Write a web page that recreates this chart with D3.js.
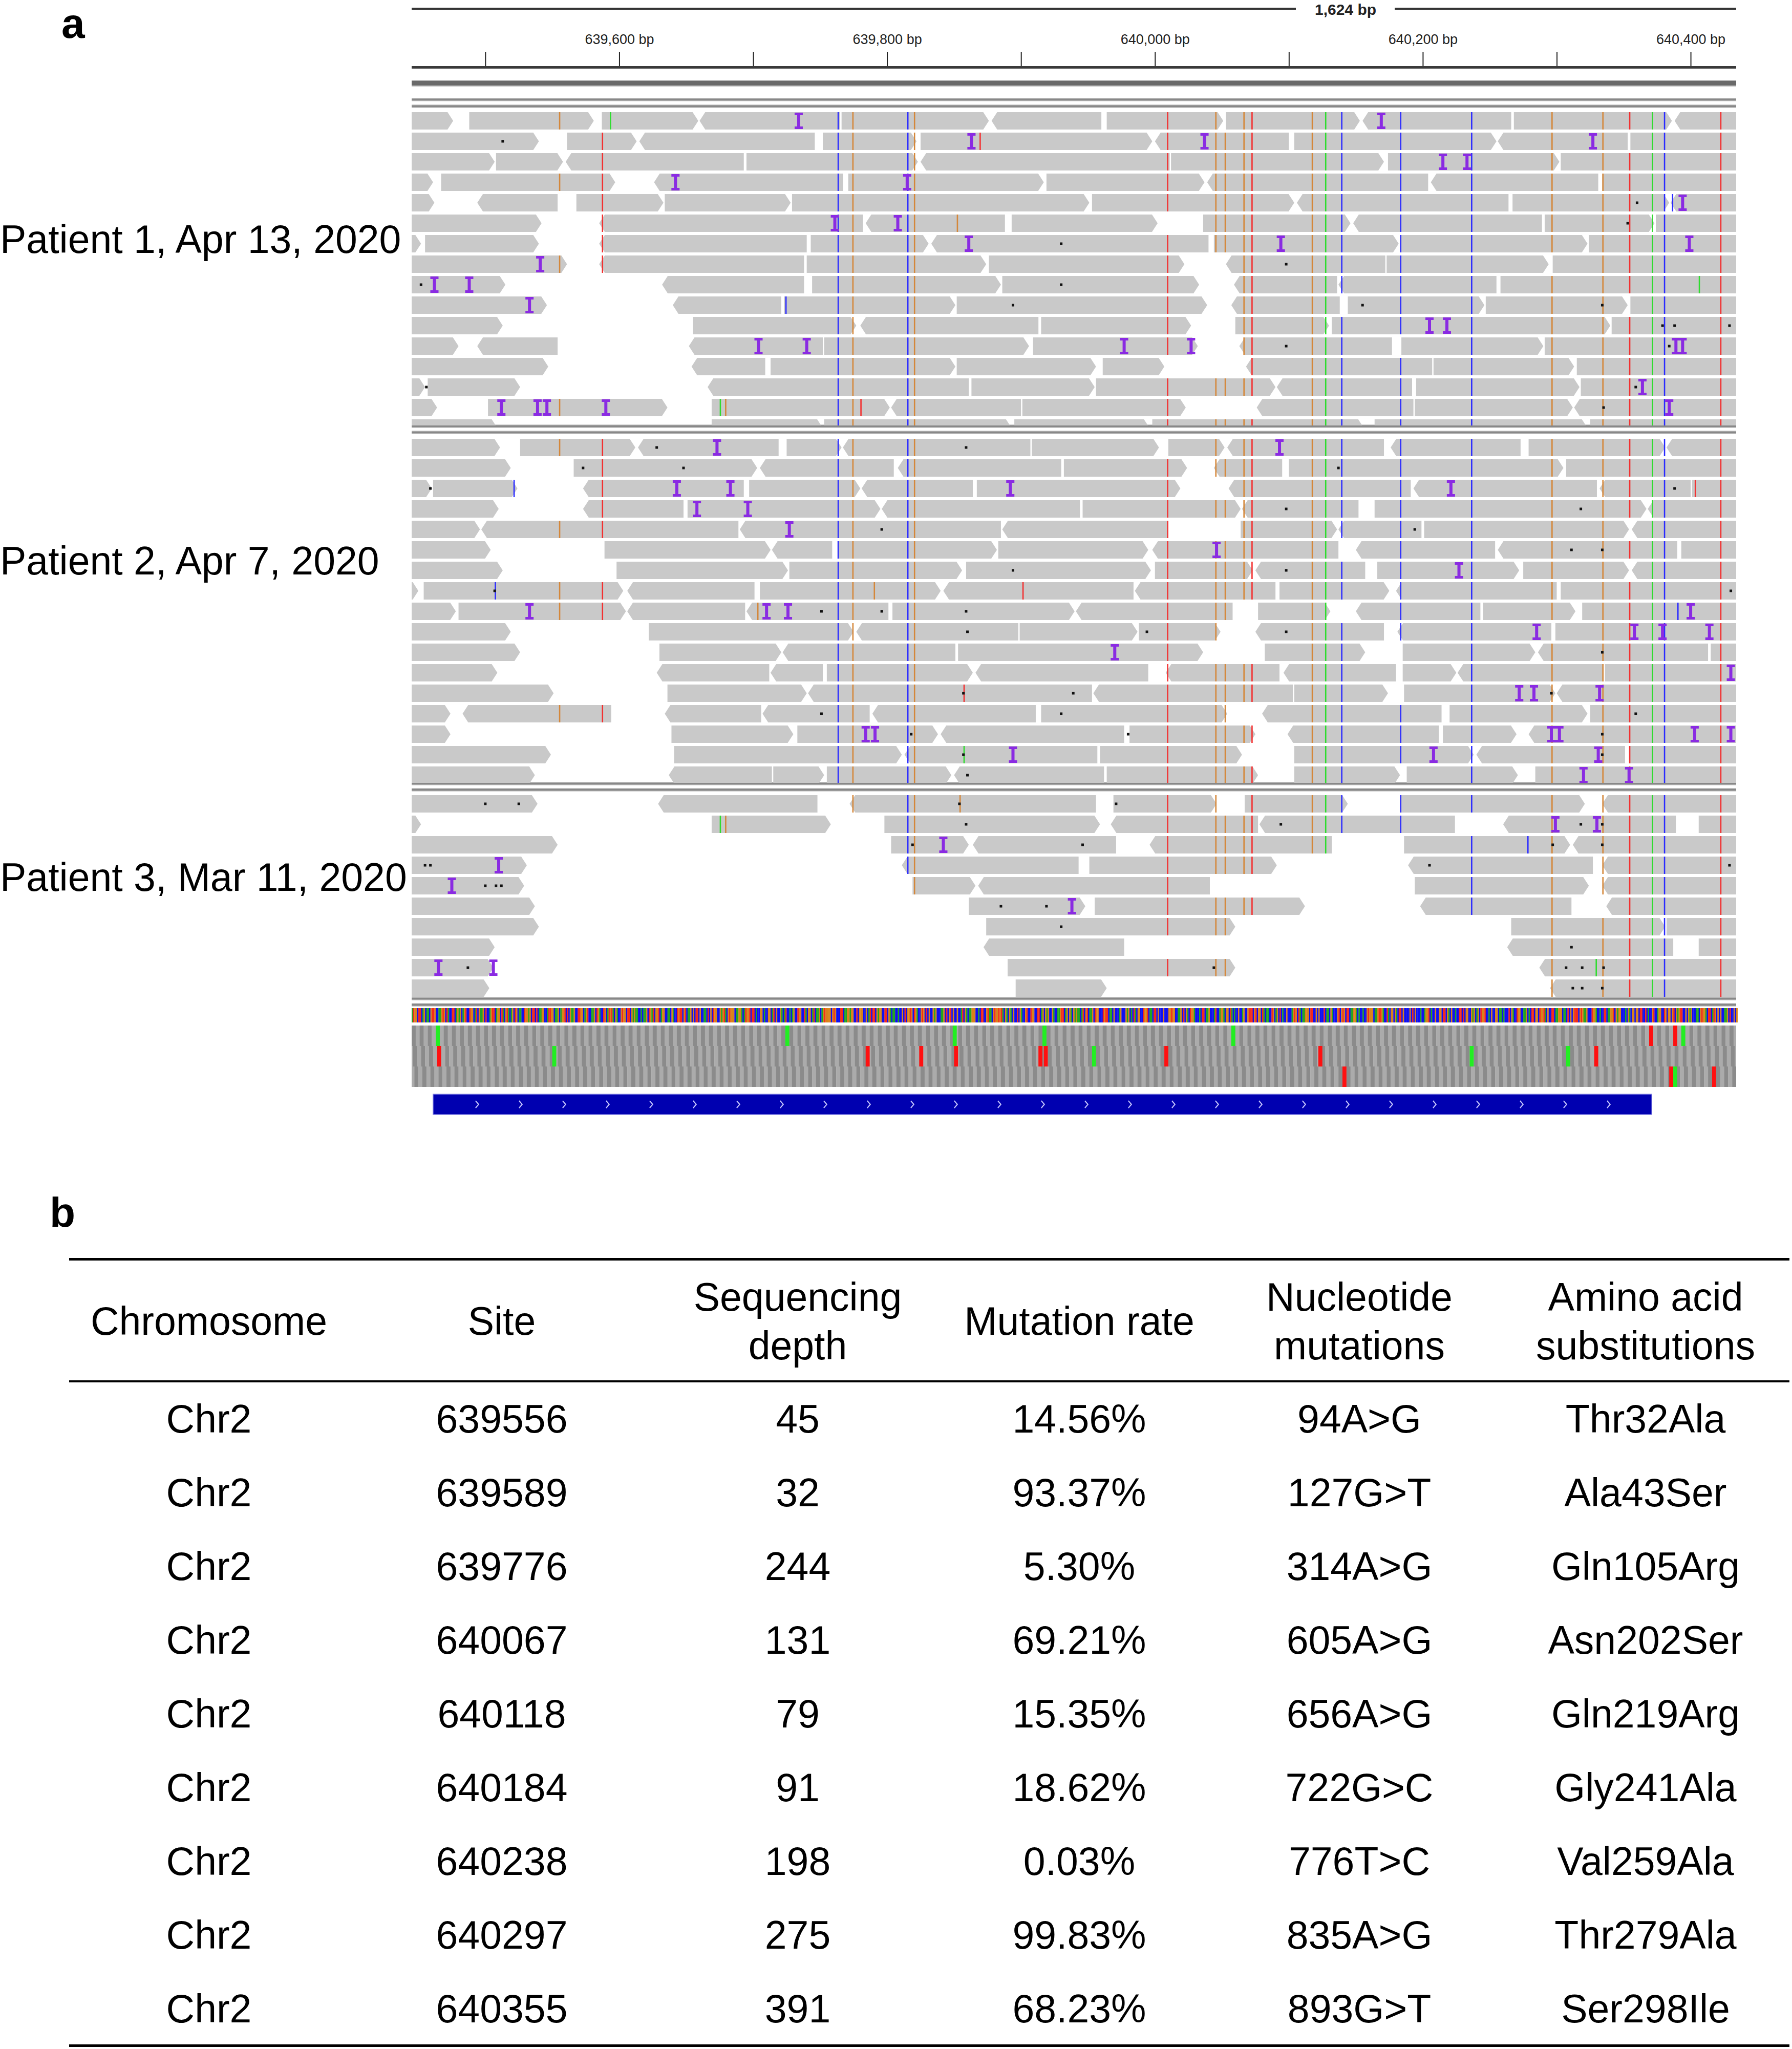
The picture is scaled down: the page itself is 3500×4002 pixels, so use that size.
<!DOCTYPE html>
<html>
<head>
<meta charset="utf-8">
<script src="https://cdn.jsdelivr.net/npm/d3@7"></script>
<style>
  body { margin: 0; background: #fff; }
  svg { display: block; }
  text { font-family: "Liberation Sans", Arial, sans-serif; }
</style>
</head>
<body>
<svg id="fig" width="3500" height="4002"></svg>
<script>
// ---- genome window ----
const viewStart = 639445, viewEnd = 640434;
const spanLabel = "1,624 bp";
const rulerTicks = [639500, 639600, 639700, 639800, 639900, 640000, 640100, 640200, 640300, 640400];

// mutation columns seen in the alignments: [position, base]
const mutCols = [
  [639555, "G"], [639587, "T"], [639763, "C"], [639774, "G"], [639815, "C"], [639820, "G"],
  [640009, "T"], [640045, "G"], [640052, "G"], [640066, "G"], [640072, "T"], [640117, "G"],
  [640127, "A"], [640139, "C"], [640183, "C"], [640236, "C"], [640296, "G"], [640334, "G"],
  [640354, "T"], [640371, "A"], [640380, "C"], [640422, "T"]
];

// ---- patient 1 : reads per row [start, end, strand] ----
const reads1 = [
  [[639440,639476,1],[639488,639581,1],[639587,639659,1],[639660,639765,-1],[639766,639876,1],[639878,639960,-1],[639964,640051,1],[640053,640153,1],[640155,640266,-1],[640268,640386,1],[640388,640440,-1]],
  [[639440,639540,1],[639561,639613,1],[639615,639746,-1],[639752,639822,1],[639825,639998,1],[640000,640100,-1],[640104,640255,1],[640256,640353,-1],[640355,640440,1]],
  [[639440,639507,1],[639508,639558,1],[639560,639693,-1],[639695,639823,1],[639825,640011,-1],[640012,640171,1],[640174,640302,1],[640303,640440,1]],
  [[639440,639461,1],[639467,639597,1],[639626,639767,-1],[639771,639917,1],[639919,640037,1],[640039,640204,-1],[640206,640331,-1],[640334,640440,1]],
  [[639440,639462,1],[639494,639554,-1],[639568,639633,1],[639634,639728,1],[639729,639951,1],[639953,640104,1],[640106,640264,-1],[640267,640384,1],[640385,640440,-1]],
  [[639440,639542,1],[639585,639782,-1],[639784,639888,-1],[639893,640002,1],[640036,640146,1],[640148,640289,-1],[640291,640373,1],[640374,640440,1]],
  [[639440,639452,1],[639455,639540,1],[639585,639740,-1],[639743,639831,1],[639833,640040,-1],[640044,640182,1],[640183,640323,1],[640324,640440,1]],
  [[639440,639561,1],[639585,639738,-1],[639740,639874,1],[639876,640022,1],[640053,640172,-1],[640173,640294,1],[640297,640440,1]],
  [[639440,639515,1],[639632,639738,-1],[639744,639885,1],[639886,640033,1],[640059,640136,-1],[640137,640255,-1],[640258,640440,1]],
  [[639440,639546,1],[639640,639721,-1],[639723,639851,1],[639852,640039,1],[640057,640138,-1],[640144,640246,1],[640247,640353,1],[640355,640440,1]],
  [[639440,639513,1],[639655,639777,1],[639780,639913,-1],[639915,640027,1],[640060,640130,1],[640132,640340,1],[640341,640440,1]],
  [[639440,639480,1],[639494,639554,-1],[639652,639752,-1],[639753,639906,1],[639909,640032,1],[640063,640177,-1],[640184,640290,1],[640291,640440,1]],
  [[639440,639547,1],[639654,639709,-1],[639713,639851,1],[639852,639956,1],[639961,640007,1],[640068,640207,-1],[640208,640313,1],[640315,640440,1]],
  [[639440,639455,1],[639457,639526,1],[639666,639861,-1],[639863,639955,1],[639956,640090,1],[640091,640192,-1],[640195,640317,1],[640318,640440,1]],
  [[639440,639464,1],[639502,639636,1],[639669,639802,1],[639803,639900,-1],[639901,640023,1],[640076,640193,-1],[640194,640312,1],[640313,640440,-1]],
  [[639440,639509,1],[639669,639752,1],[639753,639893,1],[639895,639996,1],[639998,640156,1],[640164,640323,1],[640325,640440,1]]
];
// insertions [row, pos], deletions [row, pos], single mismatches [row, pos, base], columns missing in a row [pos, row]
const ins1 = [[0,639734],[0,640169],[1,639863],[1,640037],[1,640327],[2,640215],[2,640233],[3,639642],[3,639815],[4,640394],
  [5,639761],[5,639808],[6,639861],[6,640094],[6,640399],[7,639541],[8,639462],[8,639488],[9,639533],[10,640205],[10,640218],
  [11,639704],[11,639740],[11,639977],[11,640027],[11,640389],[11,640394],[13,640364],[14,639512],[14,639539],[14,639546],[14,639590],[14,640384]];
const dels1 = [[1,639513],[4,640360],[5,640353],[6,639930],[7,640098],[8,639452],[8,639930],[9,639894],[9,640155],[9,640334],
  [10,640379],[10,640388],[10,640429],[11,640098],[11,640384],[13,639456],[13,640359],[14,640335]];
const snv1 = [[0,639593,"A"],[1,639869,"T"],[4,640386,"C"],[5,639852,"G"],[8,640406,"A"],[9,639724,"C"],[14,639675,"A"],[14,639679,"G"],[14,639780,"T"]];
const skip1 = [[639555,2],[639587,0],[639587,14]];

// ---- patient 2 ----
const reads2 = [
  [[639440,639511,1],[639526,639612,1],[639614,639719,-1],[639725,639766,1],[639767,639907,-1],[639908,640003,1],[640010,640052,1],[640054,640171,-1],[640176,640273,-1],[640279,640381,1],[640382,640440,-1]],
  [[639440,639519,1],[639566,639703,1],[639705,639805,-1],[639808,639930,-1],[639932,640024,1],[640044,640095,-1],[640100,640305,1],[640307,640440,1]],
  [[639440,639460,1],[639461,639524,1],[639573,639693,-1],[639697,639780,1],[639781,639864,-1],[639867,640019,1],[640055,640191,-1],[640193,640330,-1],[640332,640400,-1],[640401,640440,1]],
  [[639440,639510,1],[639573,639648,-1],[639651,639795,1],[639796,639944,-1],[639946,640064,1],[640065,640152,-1],[640164,640367,1],[640368,640440,-1]],
  [[639440,639496,1],[639497,639689,-1],[639690,639885,-1],[639886,640010,-1],[640064,640136,1],[640137,640199,-1],[640201,640354,1],[640356,640440,-1]],
  [[639440,639504,1],[639589,639713,1],[639714,639759,-1],[639763,639882,1],[639883,639995,1],[639998,640137,-1],[640150,640254,-1],[640256,640390,-1],[640393,640440,1]],
  [[639440,639513,1],[639598,639726,1],[639727,639856,1],[639859,639997,1],[640000,640073,1],[640075,640157,-1],[640166,640272,1],[640275,640354,1],[640356,640440,-1]],
  [[639440,639450,1],[639454,639603,1],[639606,639701,-1],[639705,639840,1],[639842,639984,-1],[639985,640090,-1],[640093,640175,1],[640180,640300,-1],[640303,640440,1]],
  [[639440,639478,1],[639480,639605,1],[639606,639694,-1],[639695,639801,-1],[639804,639940,1],[639941,640058,-1],[640077,640131,1],[640150,640243,-1],[640245,640314,1],[640319,640440,1]],
  [[639440,639519,1],[639622,639775,1],[639777,639898,-1],[639899,639987,1],[639988,640049,1],[640075,640171,-1],[640181,640296,-1],[640299,640440,1]],
  [[639440,639526,1],[639630,639721,1],[639722,639851,-1],[639853,640036,1],[640082,640157,1],[640185,640284,1],[640286,640413,-1],[640415,640440,1]],
  [[639440,639509,1],[639628,639712,-1],[639713,639752,-1],[639755,639864,1],[639866,639995,-1],[640008,640093,-1],[640096,640180,-1],[640185,640225,1],[640226,640335,-1],[640336,640440,1]],
  [[639440,639551,1],[639636,639740,1],[639741,639953,-1],[639954,640103,-1],[640104,640174,1],[640186,640299,1],[640300,640440,-1]],
  [[639440,639474,1],[639483,639594,-1],[639634,639706,-1],[639707,639787,-1],[639789,639911,-1],[639915,640054,1],[640080,640214,-1],[640220,640323,1],[640325,640440,1]],
  [[639440,639474,1],[639639,639730,1],[639733,639838,1],[639840,639977,-1],[639981,640075,1],[640099,640212,-1],[640215,640270,1],[640279,640440,-1]],
  [[639440,639549,1],[639641,639811,1],[639813,639957,-1],[639959,640065,1],[640104,640238,1],[640240,640351,-1],[640354,640440,1]],
  [[639440,639537,1],[639637,639714,-1],[639715,639753,1],[639755,639848,1],[639850,639962,-1],[639964,640077,1],[640104,640183,1],[640188,640271,1],[640284,640440,1]]
];
const ins2 = [[0,639673],[0,640093],[2,639643],[2,639683],[2,639892],[2,640221],[3,639658],[3,639696],[4,639727],[5,640046],[6,640227],
  [8,639533],[8,639710],[8,639726],[8,640400],[9,640285],[9,640358],[9,640379],[9,640414],[10,639970],[11,640430],
  [12,640272],[12,640283],[12,640332],[14,639784],[14,639791],[14,640296],[14,640302],[14,640403],[14,640430],
  [15,639894],[15,640208],[15,640331],[16,640320],[16,640354]];
const dels2 = [[0,639628],[0,639859],[1,639573],[1,639648],[1,640137],[2,639459],[2,640388],[3,640098],[3,640318],[4,639796],[4,640194],
  [5,640311],[5,640334],[6,639894],[6,640098],[7,639507],[7,640430],[8,639751],[8,639796],[8,639859],[9,639860],[9,639994],[9,640098],
  [10,640334],[12,639857],[12,639939],[12,640296],[13,639751],[13,639930],[13,640359],[14,639818],[14,639980],[14,640334],
  [15,639857],[15,640334],[16,639860]];
const snv2 = [[2,639521,"C"],[2,640403,"T"],[7,639507,"C"],[7,639790,"G"],[7,639901,"T"],[8,639703,"G"],[8,640390,"C"],[12,639857,"T"],[15,639857,"A"]];
const skip2 = [];

// ---- patient 3 ----
const reads3 = [
  [[639440,639539,1],[639629,639748,-1],[639772,639956,-1],[639969,640046,1],[640067,640144,1],[640183,640321,1],[640334,640440,-1]],
  [[639440,639452,1],[639669,639758,1],[639798,639959,1],[639967,640077,-1],[640078,640224,-1],[640260,640389,-1],[640406,640440,1]],
  [[639440,639554,1],[639803,639861,1],[639864,639971,-1],[639996,640132,-1],[640186,640310,1],[640312,640440,-1]],
  [[639440,639531,1],[639811,639943,-1],[639951,640091,1],[640189,640327,-1],[640334,640440,-1]],
  [[639440,639529,1],[639819,639866,1],[639868,640041,-1],[640194,640324,1],[640334,640440,-1]],
  [[639440,639537,1],[639861,639948,1],[639955,640112,1],[640198,640311,-1],[640337,640440,-1]],
  [[639440,639540,1],[639874,640060,1],[640266,640381,1],[640382,640440,1]],
  [[639440,639507,1],[639872,639977,-1],[640263,640387,-1],[640406,640440,1]],
  [[639440,639506,1],[639890,640060,1],[640287,640440,-1]],
  [[639440,639503,1],[639896,639964,1],[640295,640440,-1]]
];
const ins3 = [[1,640299],[1,640330],[2,639842],[3,639510],[4,639475],[5,639938],[8,639465],[8,639506]];
const dels3 = [[0,639500],[0,639525],[0,639854],[0,639971],[1,639859],[1,640094],[1,640318],[1,640334],[2,639819],[2,639946],[2,640297],[2,640334],
  [3,639455],[3,639459],[3,640205],[3,640429],[4,639500],[4,639508],[4,639512],[5,639885],[5,639919],[6,639930],[7,640311],
  [8,639487],[8,640044],[8,640307],[8,640319],[8,640335],[9,640312],[9,640319],[9,640334]];
const snv3 = [[0,639854,"G"],[1,639675,"A"],[1,639679,"G"],[2,640278,"C"],[8,640329,"A"]];
const skip3 = [];

const patientLabels = ["Patient 1, Apr 13, 2020", "Patient 2, Apr 7, 2020", "Patient 3, Mar 11, 2020"];

// reference sequence shown in the sequence track
const refSeq =
  "ATGGCTTCAGCAACGTTGCCAAGTGCTACCTTCAGAGCAGTCCTGGCATCGAAGCTCCAG" +
  "TTCAGGCTACGTACAGCTGCAACCTGGAGCTTCTCAAGGCCATTGGCAAGCAGGTCTCGA" +
  "AGCCTTGGCAGTCCAAGCTGACCTGCATGTACGACCGTGGCTTCGAGAACCACAAGCTGA" +
  "TCGGTCAGGCCAACGACCTGTTCGTCAAGCGCTTCGCCAACTCGCTGGCCGAGTACGTGG" +
  "GCAAGGACATGGTCTTCACCGGCACCGGCATCGCCGACATCCACAGCCTGGCCTACGGCA" +
  "TCAAGCAGTGGGGCGTGCCCTTCAAGGAGGCCTCGGGCCGCATCTTCGAGGCCTTCGACA" +
  "ACCACCGCTCGGTGCTGACCGTGCTCGCCGAGCCCAAGCTCGTCGCCGCCATCGACAAGG" +
  "GCCACTTCCGTAACGTGGTGTACGACGACGCCTCGACCGTCCTGGCCTTCAGCGAGCCGA" +
  "CCAAGTTCAGCGACGAGAACATCGTCAAGCTGGCCCTGTTCAACGCCCAGCCCGAGCACT" +
  "ACGGCCTGGTCAACTTCGCCCGCCCGGTGGCCAAGCTCGACTGGACCCACTTCAAGCCCA" +
  "TCCAGGACGGCTACACCGCCAGCCGTTTCGTCGGCTACAACCTGCAGCTCACCGCCCAGT" +
  "GCTACAAGGGCTTCCGCGCCCTCAACGACCCGTCGTGCTTCAAGGACACCACCGTGGGCA" +
  "AGTTGACCTACGGCGACTTCGCCCCGCTCGCCCACCAGGTCACCGCCGGCTTCGACGCCA" +
  "CCTTCTCGGCCGAGCAGCTGGTCCACGCCGGCAACACCCTCGACCTGGCCAAGCACTTCG" +
  "GCTGGTACGCCTTCAAGGGCAACTCGCGTTTCGTGAAGCCCTGGACCACCTTCAAGGTCG" +
  "AGGCCCACGACGGCGGCTTCCTCACCGTCCAGGCCTGCGGCGTCGAGTTCCGCGAGCCCA" +
  "ACGTGGACTTCATGCGCGCCAAGCTCCGCGGCGCCATCTTCTAGGATCCAAGCTTGGATC";

// start / stop codons in the three frames: [frame, pos]
const startCodons = [[0,639463],[0,639724],[0,639849],[0,639916],[0,640057],[0,640393],
  [1,639550],[1,639953],[1,640235],[1,640307],[2,640387]];
const stopCodons = [[0,640369],[0,640387],
  [1,639464],[1,639784],[1,639824],[1,639850],[1,639913],[1,639917],[1,640007],[1,640122],[1,640328],
  [2,640140],[2,640384],[2,640416]];
const geneStart = 639461, geneEnd = 640371;

// ---- table b ----
const tableHead = [["Chromosome"], ["Site"], ["Sequencing", "depth"], ["Mutation rate"], ["Nucleotide", "mutations"], ["Amino acid", "substitutions"]];
const chromosomes = ["Chr2","Chr2","Chr2","Chr2","Chr2","Chr2","Chr2","Chr2","Chr2"];
const sites = [639556, 639589, 639776, 640067, 640118, 640184, 640238, 640297, 640355];
const depths = [45, 32, 244, 131, 79, 91, 198, 275, 391];
const rates = ["14.56%", "93.37%", "5.30%", "69.21%", "15.35%", "18.62%", "0.03%", "99.83%", "68.23%"];
const ntMutations = ["94A>G", "127G>T", "314A>G", "605A>G", "656A>G", "722G>C", "776T>C", "835A>G", "893G>T"];
const aaSubs = ["Thr32Ala", "Ala43Ser", "Gln105Arg", "Asn202Ser", "Gln219Arg", "Gly241Ala", "Val259Ala", "Thr279Ala", "Ser298Ile"];

// =====================================================================
const svg = d3.select("#fig");
const x = d3.scaleLinear().domain([viewStart, viewEnd]).range([804, 3391]);
const bpW = x(viewStart + 1) - x(viewStart);

const baseColor = { A: "#2fdc2f", C: "#2b2bff", G: "#d4873a", T: "#f23131" };
const seqColor = { A: "#22a422", C: "#1010f0", G: "#d9821a", T: "#f42a1a" };
const readFill = "#c9c9c9", insColor = "#8a2be2";
const readH = 34, rowPitch = 40, tipW = 11;

// panel label a
svg.append("text").attr("x", 120).attr("y", 74)
  .style("font-size", "82px").style("font-weight", "bold").text("a");

// ---- ruler ----
const rulerG = svg.append("g");
rulerG.append("rect").attr("x", 804).attr("y", 15).attr("width", 2531 - 804).attr("height", 4).attr("fill", "#333");
rulerG.append("rect").attr("x", 2724).attr("y", 15).attr("width", 3391 - 2724).attr("height", 4).attr("fill", "#333");
rulerG.append("text").attr("x", 2628).attr("y", 29).attr("text-anchor", "middle")
  .style("font-size", "30px").style("font-weight", "bold").attr("fill", "#222").text(spanLabel);

const axis = d3.axisTop(x)
  .tickValues(rulerTicks)
  .tickSize(28)
  .tickPadding(16)
  .tickFormat(d => d % 200 === 0 ? d3.format(",")(d) + " bp" : "");
const axG = svg.append("g").attr("transform", "translate(0,130)").call(axis);
axG.select(".domain").remove();
axG.selectAll(".tick line").attr("stroke", "#222").attr("stroke-width", 2);
axG.selectAll(".tick text").attr("fill", "#222").style("font-size", "27px")
  .style("font-family", "'Liberation Sans Narrow', 'Liberation Sans', sans-serif");
svg.append("rect").attr("x", 804).attr("y", 129).attr("width", 3391 - 804).attr("height", 5).attr("fill", "#3a3a3a");

// thick grey track band and track separators
svg.append("rect").attr("x", 804).attr("y", 156).attr("width", 3391 - 804).attr("height", 13).attr("fill", "#bdbdbd");
svg.append("rect").attr("x", 804).attr("y", 158).attr("width", 3391 - 804).attr("height", 9).attr("fill", "#6a6a6a");

function separator(y) {
  svg.append("rect").attr("x", 804).attr("y", y - 3).attr("width", 3391 - 804).attr("height", 7).attr("fill", "#d2d2d2");
  svg.append("rect").attr("x", 804).attr("y", y - 1.5).attr("width", 3391 - 804).attr("height", 4).attr("fill", "#888");
}
[194, 207, 832, 844, 1530, 1542, 1950, 1962].forEach(separator);

// ---- alignment panels ----
const panels = [
  { label: patientLabels[0], labelY: 494, top: 219, bottom: 831, reads: reads1, ins: ins1, dels: dels1, snv: snv1, skip: skip1 },
  { label: patientLabels[1], labelY: 1122, top: 857, bottom: 1529, reads: reads2, ins: ins2, dels: dels2, snv: snv2, skip: skip2 },
  { label: patientLabels[2], labelY: 1740, top: 1553, bottom: 1949, reads: reads3, ins: ins3, dels: dels3, snv: snv3, skip: skip3 }
];

function readPath(s, e, strand, y) {
  const x1 = x(s), x2 = x(e);
  const t = Math.min(tipW, (x2 - x1) / 2);
  if (strand > 0) return `M${x1},${y}H${x2 - t}L${x2},${y + readH / 2}L${x2 - t},${y + readH}H${x1}Z`;
  return `M${x1 + t},${y}H${x2}V${y + readH}H${x1 + t}L${x1},${y + readH / 2}Z`;
}

const defs = svg.append("defs");
panels.forEach((p, pi) => {
  defs.append("clipPath").attr("id", "clip" + pi)
    .append("rect").attr("x", 804).attr("y", p.top - 4).attr("width", 3391 - 804).attr("height", p.bottom - p.top + 4);

  const g = svg.append("g").attr("clip-path", `url(#clip${pi})`);
  const rowY = r => p.top + r * rowPitch;

  const flat = [];
  p.reads.forEach((row, r) => row.forEach(rd => flat.push({ r, s: rd[0], e: rd[1], strand: rd[2] })));

  g.selectAll(".read").data(flat).enter().append("path")
    .attr("class", "read")
    .attr("d", d => readPath(d.s, d.e, d.strand, rowY(d.r)))
    .attr("fill", readFill);

  // mismatch columns on every covering read
  const marks = [];
  flat.forEach(d => {
    mutCols.forEach(([pos, base]) => {
      if (pos >= d.s && pos < d.e && !p.skip.some(k => k[0] === pos && k[1] === d.r)) marks.push({ r: d.r, pos, base });
    });
  });
  p.snv.forEach(([r, pos, base]) => marks.push({ r, pos, base }));

  g.selectAll(".mm").data(marks).enter().append("rect")
    .attr("class", "mm")
    .attr("x", d => x(d.pos))
    .attr("y", d => rowY(d.r))
    .attr("width", Math.max(bpW, 2.6))
    .attr("height", readH)
    .attr("fill", d => baseColor[d.base]);

  g.selectAll(".del").data(p.dels).enter().append("rect")
    .attr("class", "del")
    .attr("x", d => x(d[1]) - 2.5)
    .attr("y", d => rowY(d[0]) + readH / 2 - 2.5)
    .attr("width", 5).attr("height", 5)
    .attr("fill", "#111");

  const insG = g.selectAll(".ins").data(p.ins).enter().append("g")
    .attr("class", "ins")
    .attr("transform", d => `translate(${x(d[1])},${rowY(d[0])})`);
  insG.append("rect").attr("x", -3).attr("y", 2).attr("width", 6).attr("height", readH - 4).attr("fill", insColor);
  insG.append("rect").attr("x", -8).attr("y", 1).attr("width", 16).attr("height", 5).attr("fill", insColor);
  insG.append("rect").attr("x", -8).attr("y", readH - 6).attr("width", 16).attr("height", 5).attr("fill", insColor);

  // sample label on the left, drawn on top
  svg.append("text").attr("x", 0).attr("y", p.labelY).style("font-size", "77px").attr("fill", "#000").text(p.label);
});

// ---- sequence track ----
const seqBases = refSeq.slice(0, viewEnd - viewStart + 1).split("").map((b, i) => ({ pos: viewStart + i, b }));
svg.append("g").selectAll("rect").data(seqBases).enter().append("rect")
  .attr("x", d => x(d.pos)).attr("y", 1969)
  .attr("width", bpW + 0.3).attr("height", 28)
  .attr("fill", d => seqColor[d.b]);

// ---- three-frame translation ----
const frameTop = [2003, 2043, 2083];
const transG = svg.append("g");
frameTop.forEach((ty, f) => {
  const codons = d3.range(viewStart - 3 + f, viewEnd + 1, 3);
  transG.selectAll(".cod" + f).data(codons).enter().append("rect")
    .attr("x", d => x(d)).attr("y", ty)
    .attr("width", bpW * 3 + 0.3).attr("height", 40)
    .attr("fill", (d, i) => i % 2 ? "#8b8b8b" : "#ababab");
});
transG.append("clipPath").attr("id", "clipT").append("rect")
  .attr("x", 804).attr("y", 2000).attr("width", 3391 - 804).attr("height", 130);
transG.attr("clip-path", "url(#clipT)");
transG.selectAll(".stop").data(stopCodons).enter().append("rect")
  .attr("x", d => x(d[1])).attr("y", d => frameTop[d[0]])
  .attr("width", bpW * 3).attr("height", 40).attr("fill", "#ff1010");
transG.selectAll(".start").data(startCodons).enter().append("rect")
  .attr("x", d => x(d[1])).attr("y", d => frameTop[d[0]])
  .attr("width", bpW * 3).attr("height", 40).attr("fill", "#22ee22");

// ---- gene feature ----
svg.append("rect").attr("x", x(geneStart)).attr("y", 2137)
  .attr("width", x(geneEnd) - x(geneStart)).attr("height", 40)
  .attr("fill", "#0000b0").attr("stroke", "#8a8ae6").attr("stroke-width", 1.5);
const chevrons = d3.range(x(geneStart) + 86, x(geneEnd) - 40, 85);
svg.append("g").selectAll("path").data(chevrons).enter().append("path")
  .attr("d", d => `M${d - 3},${2150}L${d + 3},${2157}L${d - 3},${2164}`)
  .attr("fill", "none").attr("stroke", "#c8c8ff").attr("stroke-width", 2);

// ---- table b ----
svg.append("text").attr("x", 97).attr("y", 2396)
  .style("font-size", "82px").style("font-weight", "bold").text("b");

const colX = [408, 980, 1558, 2108, 2655, 3214];
const tableL = 135, tableR = 3495;
svg.append("rect").attr("x", tableL).attr("y", 2457).attr("width", tableR - tableL).attr("height", 5).attr("fill", "#000");
svg.append("rect").attr("x", tableL).attr("y", 2696).attr("width", tableR - tableL).attr("height", 4).attr("fill", "#000");
svg.append("rect").attr("x", tableL).attr("y", 3993).attr("width", tableR - tableL).attr("height", 5).attr("fill", "#000");

const headG = svg.append("g").style("font-size", "77px");
tableHead.forEach((lines, i) => {
  const ys = lines.length === 1 ? [2607] : [2560, 2655];
  lines.forEach((t, j) => headG.append("text").attr("x", colX[i]).attr("y", ys[j]).attr("text-anchor", "middle").text(t));
});

const rowsData = sites.map((s, i) => [chromosomes[i], s, depths[i], rates[i], ntMutations[i], aaSubs[i]]);
const bodyG = svg.append("g").style("font-size", "77px");
const rowG = bodyG.selectAll(".trow").data(rowsData).enter().append("g")
  .attr("transform", (d, i) => `translate(0,${2798 + i * 144})`);
rowG.selectAll("text").data(d => d).enter().append("text")
  .attr("x", (d, j) => colX[j]).attr("y", 0)
  .attr("text-anchor", "middle")
  .text(d => d);
</script>
</body>
</html>
